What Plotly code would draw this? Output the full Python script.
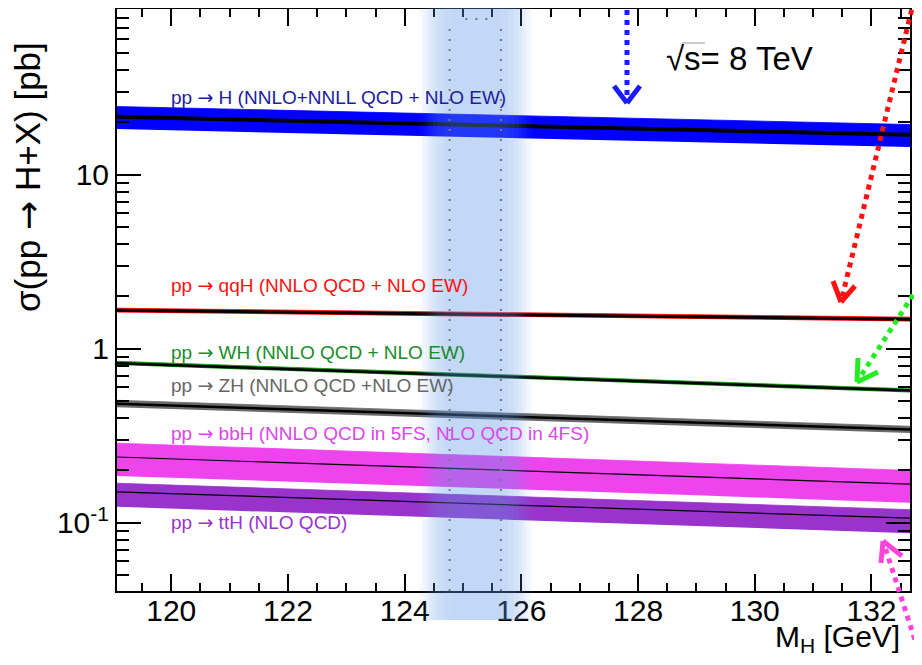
import plotly.graph_objects as go

# ---------------- data ----------------
mh = [119, 121, 123, 125, 127, 129, 131, 133]

ggh_c = [21.51, 20.76, 20.03, 19.27, 18.64, 18.01, 17.40, 16.83]
ggh_hi = [24.67, 23.81, 22.97, 22.10, 21.38, 20.66, 19.96, 19.30]
ggh_lo = [18.30, 17.67, 17.05, 16.40, 15.86, 15.33, 14.81, 14.32]

qqh_c = [1.663, 1.635, 1.606, 1.578, 1.551, 1.524, 1.498, 1.472]
qqh_hi = [1.710, 1.681, 1.651, 1.622, 1.594, 1.567, 1.540, 1.513]
qqh_lo = [1.616, 1.589, 1.561, 1.534, 1.508, 1.481, 1.456, 1.431]

wh_c = [0.827, 0.784, 0.743, 0.7046, 0.668, 0.633, 0.600, 0.569]
wh_hi = [0.848, 0.804, 0.762, 0.722, 0.685, 0.649, 0.615, 0.583]
wh_lo = [0.806, 0.764, 0.724, 0.687, 0.651, 0.617, 0.585, 0.555]

zh_c = [0.484, 0.460, 0.437, 0.4153, 0.395, 0.376, 0.357, 0.340]
zh_hi = [0.506, 0.481, 0.457, 0.434, 0.413, 0.393, 0.373, 0.355]
zh_lo = [0.462, 0.439, 0.417, 0.397, 0.377, 0.359, 0.341, 0.325]

bbh_c = [0.239, 0.227, 0.215, 0.204, 0.194, 0.184, 0.174, 0.165]
bbh_hi = [0.287, 0.272, 0.258, 0.245, 0.233, 0.221, 0.209, 0.198]
bbh_lo = [0.186, 0.177, 0.168, 0.159, 0.151, 0.144, 0.136, 0.129]

tth_c = [0.1508, 0.1433, 0.1361, 0.1293, 0.1228, 0.1166, 0.1108, 0.1052]
tth_hi = [0.1689, 0.1605, 0.1524, 0.1448, 0.1375, 0.1306, 0.1241, 0.1178]
tth_lo = [0.1237, 0.1175, 0.1116, 0.1060, 0.1007, 0.0956, 0.0909, 0.0863]

ARROW = "<span style='font-family:DejaVu Sans'>\u2192</span>"
labels = [
    "pp " + ARROW + " H (NNLO+NNLL QCD + NLO EW)",
    "pp " + ARROW + " qqH (NNLO QCD + NLO EW)",
    "pp " + ARROW + " WH (NNLO QCD + NLO EW)",
    "pp " + ARROW + " ZH (NNLO QCD +NLO EW)",
    "pp " + ARROW + " bbH (NNLO QCD in 5FS, NLO QCD in 4FS)",
    "pp " + ARROW + " ttH (NLO QCD)",
]

x_ticks = [120, 122, 124, 126, 128, 130, 132]
y_ticks = [0.1, 1, 10]
y_ticktext = ["10<sup>-1</sup>", "1", "10"]
y_minor = [0.04, 0.05, 0.06, 0.07, 0.08, 0.09,
           0.2, 0.3, 0.4, 0.5, 0.6, 0.7, 0.8, 0.9,
           2, 3, 4, 5, 6, 7, 8, 9,
           20, 30, 40, 50, 60, 70, 80, 90]

# --------------- layout geometry ----------------
# the page body adds an 8 px offset on every side
OFF = 8
W, H = 922 - 2 * OFF + 8, 665 - 2 * OFF
L, R, T, B = 117 - OFF, 12, 1, 66
PW, PH = W - L - R, H - T - B
FONT = "Liberation Sans, Arial, Helvetica, sans-serif"


def px(sx, sy):
    """screen pixel -> paper coordinates"""
    return (sx - OFF - L) / PW, (H - B - (sy - OFF)) / PH


fig = go.Figure()

procs = [
    (ggh_c, ggh_hi, ggh_lo, "#0000ff", 4.0),
    (qqh_c, qqh_hi, qqh_lo, "#ff0000", 3.0),
    (wh_c, wh_hi, wh_lo, "#0d8c0d", 2.5),
    (zh_c, zh_hi, zh_lo, "#6a6a6a", 2.5),
    (bbh_c, bbh_hi, bbh_lo, "#ee44ee", 1.2),
    (tth_c, tth_hi, tth_lo, "#9933cc", 1.2),
]
for c, hi, lo, col, lw in procs:
    fig.add_trace(go.Scatter(x=mh, y=lo, mode="lines", line=dict(width=0, color=col),
                             showlegend=False, hoverinfo="skip"))
    fig.add_trace(go.Scatter(x=mh, y=hi, mode="lines", line=dict(width=0.8, color=col),
                             fill="tonexty", fillcolor=col, showlegend=False, hoverinfo="skip"))
    fig.add_trace(go.Scatter(x=mh, y=c, mode="lines", line=dict(width=lw, color="black"),
                             showlegend=False))

# --------------- labels ----------------
label_cols = ["#1c1c9c", "#ff1010", "#1a8c2a", "#666666", "#dd44ee", "#9933cc"]
label_y = [97, 285, 352, 385, 433, 522]
ann = []
for t, col, yy in zip(labels, label_cols, label_y):
    xx, yp = px(169, yy)
    ann.append(dict(text=t, x=xx, y=yp, xref="paper", yref="paper", xanchor="left",
                    yanchor="middle", showarrow=False, font=dict(family=FONT, size=19, color=col)))

xx, yp = px(664, 58)
ann.append(dict(text="\u221as= 8 TeV", x=xx, y=yp, xref="paper", yref="paper", xanchor="left",
                yanchor="middle", showarrow=False, font=dict(family=FONT, size=33, color="black")))
xx, yp = px(902, 638)
ann.append(dict(text="M<sub>H</sub> [GeV]", x=xx, y=yp, xref="paper", yref="paper", xanchor="right",
                yanchor="middle", showarrow=False, font=dict(family=FONT, size=30, color="black")))
xx, yp = px(28, 40)
ann.append(dict(text="\u03c3(pp " + ARROW + " H+X) [pb]", x=xx, y=yp, xref="paper", yref="paper",
                xanchor="center", yanchor="top", textangle=-90, showarrow=False,
                font=dict(family=FONT, size=35, color="black")))
xx, yp = px(913, 8)
ann.append(dict(text="LHC HIGGS XS WG 2014", x=xx, y=yp, xref="paper", yref="paper",
                xanchor="left", yanchor="top", textangle=-90, showarrow=False,
                font=dict(family=FONT, size=12, color="#111111")))

shapes = []
# blurred blue band (stacked translucent rects)
x_c = 125.22
for hw, op in [(0.98, 0.04), (0.92, 0.05), (0.86, 0.06), (0.80, 0.07), (0.74, 0.08),
               (0.66, 0.07), (0.55, 0.05), (0.42, 0.03)]:
    shapes.append(dict(type="rect", xref="x", yref="paper", x0=x_c - hw, x1=x_c + hw,
                       y0=-0.05, y1=1.02, line=dict(width=0),
                       fillcolor="rgb(100,160,235)", opacity=op, layer="above"))
# dotted gray outline
for xv in [124.77, 125.65]:
    shapes.append(dict(type="line", xref="x", yref="paper", x0=xv, x1=xv, y0=0.0, y1=0.967,
                       line=dict(color="#707a88", width=2, dash="2px,8px"), layer="above"))
shapes.append(dict(type="line", xref="x", yref="paper", x0=125.04, x1=125.42, y0=0.983, y1=0.983,
                   line=dict(color="#707a88", width=2, dash="2px,8px"), layer="above"))

# sqrt overline
x0, y0 = px(682, 43)
x1, _ = px(705, 43)
shapes.append(dict(type="line", xref="paper", yref="paper", x0=x0, x1=x1, y0=y0, y1=y0,
                   line=dict(color="#999999", width=1)))


def arrow(col, start, tip, arm1, arm2):
    out = []
    a = px(*start); b = px(*tip)
    out.append(dict(type="line", xref="paper", yref="paper", x0=a[0], y0=a[1], x1=b[0], y1=b[1],
                    line=dict(color=col, width=5, dash="5px,5px"), layer="above"))
    for arm in (arm1, arm2):
        c = px(*arm)
        out.append(dict(type="line", xref="paper", yref="paper", x0=c[0], y0=c[1], x1=b[0], y1=b[1],
                        line=dict(color=col, width=5), layer="above"))
    return out


shapes += arrow("#1a1aff", (627, 0), (627, 103), (614, 86), (640, 86))
shapes += arrow("#ff1111", (914, 0), (841, 302), (833, 281), (855, 286))
shapes += arrow("#22ee22", (924, 278), (857, 382), (858, 358), (878, 372))
shapes += arrow("#ff44dd", (924, 668), (883, 541), (881, 563), (902, 556))

fig.update_layout(
    width=W, height=H, margin=dict(l=L, r=R, t=T, b=B, autoexpand=False),
    paper_bgcolor="white", plot_bgcolor="white",
    font=dict(family=FONT, size=30, color="black"),
    annotations=ann, shapes=shapes,
    xaxis=dict(range=[119.07, 132.66], tickvals=x_ticks, ticks="inside", ticklen=17, tickwidth=1.5,
               tickcolor="black", showline=True, linecolor="black", linewidth=2, mirror="ticks",
               showgrid=False, zeroline=False, tickfont=dict(size=30), automargin=False,
               ticklabelstandoff=-8,
               minor=dict(dtick=0.5, tick0=119, ticks="inside", ticklen=8, tickwidth=1.5,
                          tickcolor="black", showgrid=False)),
    yaxis=dict(type="log", range=[-1.3925, 1.952], tickvals=y_ticks, ticktext=y_ticktext,
               ticks="inside", ticklen=24, tickwidth=1.5, tickcolor="black", showline=True,
               linecolor="black", linewidth=2, mirror="ticks", showgrid=False, zeroline=False,
               tickfont=dict(size=30), automargin=False,
               minor=dict(tickmode="array", tickvals=y_minor, ticks="inside", ticklen=12,
                          tickwidth=1.5, tickcolor="black", showgrid=False)),
)

fig.write_html("out.html")
